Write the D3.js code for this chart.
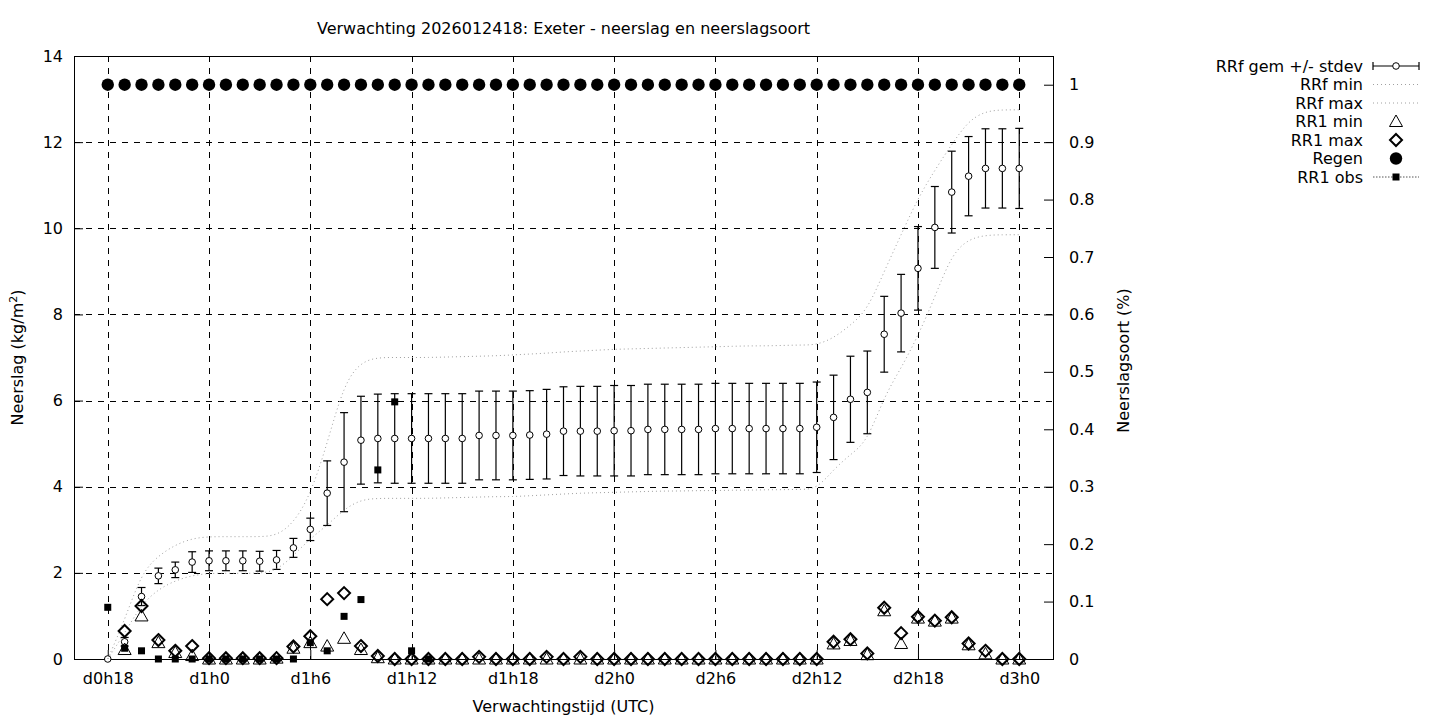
<!DOCTYPE html>
<html>
<head>
<meta charset="utf-8">
<script src="https://cdn.jsdelivr.net/npm/d3@7"></script>
<style>
body { margin:0; background:#fff; }
text { font-family:"DejaVu Sans", sans-serif; font-size:16px; fill:#000; }
</style>
</head>
<body>
<svg id="chart" width="1440" height="720"></svg>
<script>
var titleText = "Verwachting 2026012418: Exeter - neerslag en neerslagsoort";
var startHour = 18;
// RRf gem / stdev / min / max, one value per forecast hour (d0h18 .. d3h0)
var rrfMean = [0,0.4,1.45,1.93,2.07,2.25,2.28,2.28,2.28,2.27,
	2.3,2.58,3.01,3.85,4.57,5.08,5.12,5.12,5.12,5.12,
	5.12,5.12,5.19,5.19,5.19,5.2,5.22,5.29,5.29,5.29,
	5.3,5.3,5.33,5.33,5.33,5.33,5.35,5.35,5.35,5.35,
	5.35,5.35,5.38,5.61,6.03,6.19,7.54,8.03,9.07,10.02,
	10.84,11.21,11.39,11.39,11.39];
var rrfStd = [0,0.1,0.21,0.18,0.18,0.24,0.23,0.23,0.23,0.23,
	0.22,0.22,0.26,0.75,1.15,1.02,1.03,1.04,1.04,1.04,
	1.04,1.04,1.03,1.03,1.03,1.03,1.04,1.03,1.04,1.04,
	1.05,1.05,1.05,1.05,1.05,1.05,1.05,1.05,1.05,1.05,
	1.05,1.05,1.05,0.98,1.0,0.96,0.88,0.9,0.97,0.95,
	0.95,0.92,0.92,0.92,0.93];
var rrfMin = [0,0.6,1.27,1.62,1.82,1.94,1.99,1.99,1.99,1.99,
	2.05,2.4,2.8,3.1,3.48,3.7,3.73,3.73,3.73,3.73,
	3.74,3.75,3.76,3.77,3.77,3.79,3.81,3.83,3.85,3.86,
	3.87,3.88,3.89,3.9,3.9,3.91,3.91,3.92,3.92,3.93,
	3.93,3.94,3.94,4.4,4.75,5.05,6.1,6.75,7.5,8.4,
	9.4,9.75,9.84,9.85,9.85];
var rrfMax = [0,0.9,2.0,2.4,2.65,2.8,2.84,2.84,2.84,2.84,
	2.86,3.15,3.8,5.0,6.4,6.9,7.0,7.0,7.0,7.0,
	7.01,7.02,7.03,7.04,7.06,7.08,7.1,7.13,7.15,7.17,
	7.19,7.2,7.21,7.22,7.23,7.24,7.25,7.26,7.27,7.27,
	7.28,7.29,7.29,7.45,7.75,8.1,9.0,9.85,10.7,11.35,
	11.95,12.5,12.72,12.75,12.75];
var rr1Min = [null,0.22,1.0,0.38,0.15,0.08,0,0,0,0,
	0.02,0.25,0.38,0.3,0.48,0.22,0.03,0,0,0,
	0,0,0,0,0,0,0,0,0,0,
	0,0,0,0,0,0,0,0,0,0,
	0,0,0,0.35,0.43,0.1,1.12,0.36,0.95,0.88,
	0.95,0.33,0.12,0,0];
var rr1Max = [null,0.65,1.23,0.44,0.19,0.3,0.02,0.02,0.02,0.02,
	0.02,0.29,0.53,1.39,1.53,0.3,0.07,0,0,0,
	0,0,0.05,0,0,0,0.05,0,0.05,0,
	0,0,0,0,0,0,0,0,0,0,
	0,0,0,0.4,0.46,0.13,1.19,0.6,0.98,0.89,
	0.97,0.36,0.19,0,0];
var regen = [1,1,1,1,1,1,1,1,1,1,
	1,1,1,1,1,1,1,1,1,1,
	1,1,1,1,1,1,1,1,1,1,
	1,1,1,1,1,1,1,1,1,1,
	1,1,1,1,1,1,1,1,1,1,
	1,1,1,1,1];
var rr1Obs = [1.2,0.25,0.19,0,0,0,0,0,0,0,
	0,0,0.38,0.19,0.99,1.38,4.39,5.97,0.19,0];
var xTicks = [18,24,30,36,42,48,54,60,66,72];
var yTicks = [0,2,4,6,8,10,12,14];
var y2Ticks = [0,0.1,0.2,0.3,0.4,0.5,0.6,0.7,0.8,0.9,1];
var legendNames = ["RRf gem +/- stdev","RRf min","RRf max","RR1 min","RR1 max","Regen","RR1 obs"];

var plot = {left:74, right:1053, top:56, bottom:659};
var svg = d3.select("#chart");

var x = d3.scaleLinear().domain([16,74]).range([plot.left,plot.right]);
var y = d3.scaleLinear().domain([0,14]).range([plot.bottom,plot.top]);
var y2 = d3.scaleLinear().domain([0,1.05]).range([plot.bottom,plot.top]);
function hx(i){ return x(startHour+i); }
function hourLabel(h){ return "d"+Math.floor(h/24)+"h"+(h%24); }

//title
svg.append("text")
	.attr("x",(plot.left+plot.right)/2)
	.attr("y",34)
	.attr("text-anchor","middle")
	.text(titleText);

//grid
var grid = svg.append("g").attr("stroke","#000").attr("stroke-width",1).attr("stroke-dasharray","6,6");
yTicks.forEach(function(v){
	if(v==0 || v==14) return;
	grid.append("line").attr("x1",plot.left).attr("x2",plot.right)
		.attr("y1",Math.round(y(v))+0.5).attr("y2",Math.round(y(v))+0.5);
});
xTicks.forEach(function(v){
	grid.append("line").attr("y1",plot.top).attr("y2",plot.bottom)
		.attr("x1",Math.round(x(v))+0.5).attr("x2",Math.round(x(v))+0.5);
});

//axes (gnuplot style, ticks inward)
var yAxis = d3.axisLeft(y).tickValues(yTicks).tickSizeInner(-9).tickSizeOuter(0).tickPadding(11);
svg.append("g").attr("transform","translate("+plot.left+",0)").call(yAxis);
var y2Axis = d3.axisRight(y2).tickValues(y2Ticks).tickSizeInner(-9).tickSizeOuter(0).tickPadding(16)
	.tickFormat(function(d){ return d3.format("~g")(d); });
svg.append("g").attr("transform","translate("+plot.right+",0)").call(y2Axis);
var xAxis = d3.axisBottom(x).tickValues(xTicks).tickSizeInner(-9).tickSizeOuter(0).tickPadding(14).tickFormat(hourLabel);
svg.append("g").attr("transform","translate(0,"+plot.bottom+")").call(xAxis);
svg.selectAll(".domain").remove();
svg.selectAll(".tick text").style("font-family","DejaVu Sans").style("font-size","16px").attr("fill","#000");
svg.selectAll(".tick line").attr("stroke","#000");

svg.append("rect")
	.attr("x",plot.left+0.5).attr("y",plot.top+0.5)
	.attr("width",plot.right-plot.left).attr("height",plot.bottom-plot.top)
	.attr("fill","none").attr("stroke","#000").attr("stroke-width",1);

//axis labels
svg.append("text")
	.attr("x",(plot.left+plot.right)/2).attr("y",712)
	.attr("text-anchor","middle")
	.text("Verwachtingstijd (UTC)");
var ylab = svg.append("text")
	.attr("transform","translate(23,"+((plot.top+plot.bottom)/2)+") rotate(-90)")
	.attr("text-anchor","middle");
ylab.append("tspan").text("Neerslag (kg/m");
ylab.append("tspan").attr("dy",-6).style("font-size","11px").text("2");
ylab.append("tspan").attr("dy",6).text(")");
svg.append("text")
	.attr("transform","translate(1129,"+((plot.top+plot.bottom)/2+3)+") rotate(-90)")
	.attr("text-anchor","middle")
	.text("Neerslagsoort (%)");

//symbols
function triangle(g,cx,cy){
	g.append("path").attr("d","M"+(cx-6.5)+","+(cy+5)+"L"+(cx+6.5)+","+(cy+5)+"L"+cx+","+(cy-6.5)+"Z")
		.attr("fill","none").attr("stroke","#000").attr("stroke-width",1);
}
function diamond(g,cx,cy){
	g.append("path").attr("d","M"+cx+","+(cy-6)+"L"+(cx+6)+","+cy+"L"+cx+","+(cy+6)+"L"+(cx-6)+","+cy+"Z")
		.attr("fill","none").attr("stroke","#000").attr("stroke-width",2);
}
function errbar(g,cx,top,bot){
	g.append("line").attr("x1",cx).attr("x2",cx).attr("y1",top).attr("y2",bot);
	g.append("line").attr("x1",cx-4).attr("x2",cx+4).attr("y1",top).attr("y2",top);
	g.append("line").attr("x1",cx-4).attr("x2",cx+4).attr("y1",bot).attr("y2",bot);
}

var marks = svg.append("g");
//RRf gem +/- stdev
var eb = marks.append("g").attr("stroke","#000").attr("stroke-width",1.2);
rrfMean.forEach(function(m,i){
	if(rrfStd[i]>0) errbar(eb,hx(i),y(m+rrfStd[i]),y(m-rrfStd[i]));
});
marks.append("g").selectAll("circle").data(rrfMean).enter().append("circle")
	.attr("cx",function(d,i){ return hx(i); })
	.attr("cy",function(d){ return y(d); })
	.attr("r",3.3)
	.attr("fill","#fff").attr("stroke","#000").attr("stroke-width",1);

//RRf min, RRf max
var smooth = d3.line().x(function(d,i){ return hx(i); }).y(function(d){ return y(d); }).curve(d3.curveBasis);
[rrfMin,rrfMax].forEach(function(arr){
	marks.append("path").attr("d",smooth(arr))
		.attr("fill","none").attr("stroke","#a0a0a0").attr("stroke-width",1).attr("stroke-dasharray","1,3");
});

//RR1 min / max
var tg = marks.append("g");
rr1Min.forEach(function(v,i){ if(v!==null) triangle(tg,hx(i),y(v)); });
var dg = marks.append("g");
rr1Max.forEach(function(v,i){ if(v!==null) diamond(dg,hx(i),y(v)); });

//Regen
marks.append("g").selectAll("circle").data(regen).enter().append("circle")
	.attr("cx",function(d,i){ return hx(i); })
	.attr("cy",function(d){ return y2(d); })
	.attr("r",6.2).attr("fill","#000");

//RR1 obs
marks.append("g").selectAll("rect").data(rr1Obs).enter().append("rect")
	.attr("x",function(d,i){ return hx(i)-3.5; })
	.attr("y",function(d){ return y(d)-3.5; })
	.attr("width",7).attr("height",7).attr("fill","#000");

//legend
var lg = svg.append("g");
var lx = 1363, ls = 1373, le = 1419;
legendNames.forEach(function(name,i){
	var ly = 66+i*18.5;
	lg.append("text").attr("x",lx).attr("y",ly+5.5).attr("text-anchor","end").text(name);
	var mid = (ls+le)/2;
	if(i==0){
		var g0 = lg.append("g").attr("stroke","#000").attr("stroke-width",1.2);
		g0.append("line").attr("x1",ls).attr("x2",le).attr("y1",ly).attr("y2",ly);
		g0.append("line").attr("x1",ls).attr("x2",ls).attr("y1",ly-4).attr("y2",ly+4);
		g0.append("line").attr("x1",le).attr("x2",le).attr("y1",ly-4).attr("y2",ly+4);
		lg.append("circle").attr("cx",mid).attr("cy",ly).attr("r",3.3).attr("fill","#fff").attr("stroke","#000");
	}else if(i==1 || i==2){
		lg.append("line").attr("x1",ls).attr("x2",le).attr("y1",ly).attr("y2",ly)
			.attr("stroke","#a0a0a0").attr("stroke-dasharray","1,3");
	}else if(i==3){
		triangle(lg,mid,ly);
	}else if(i==4){
		diamond(lg,mid,ly);
	}else if(i==5){
		lg.append("circle").attr("cx",mid).attr("cy",ly).attr("r",6.2).attr("fill","#000");
	}else{
		lg.append("line").attr("x1",ls).attr("x2",le).attr("y1",ly).attr("y2",ly)
			.attr("stroke","#555").attr("stroke-dasharray","1.5,1.5");
		lg.append("rect").attr("x",mid-3.5).attr("y",ly-3.5).attr("width",7).attr("height",7).attr("fill","#000");
	}
});
</script>
</body>
</html>
